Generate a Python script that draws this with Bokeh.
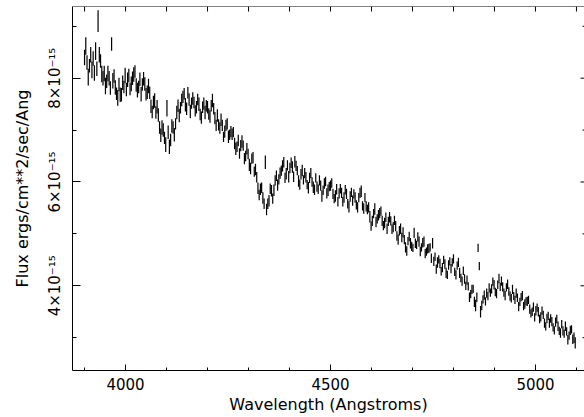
import numpy as np
from bokeh.plotting import figure
from bokeh.models import (ColumnDataSource, LinearAxis, SingleIntervalTicker,
                          Range1d)
from bokeh.embed import file_html
from bokeh.resources import INLINE

# Wavelength grid (Angstroms): first sample and sampling step
wl_start = 3900
wl_step = 3

# Flux in units of 1e-15 ergs/cm**2/sec/Ang, one value per sample
flux = [
    8.40, 8.62, 8.30, 8.02, 8.24, 8.45, 8.16, 8.38, 8.10, 8.52,
    8.18, 9.10, 8.45, 8.33, 8.08, 8.00, 8.09, 7.85, 7.94, 8.09,
    8.00, 7.81, 8.66, 7.95, 8.04, 7.82, 7.70, 7.62, 7.88, 7.68,
    7.68, 7.91, 7.83, 8.05, 7.78, 7.97, 8.05, 7.79, 7.89, 8.00,
    8.07, 8.13, 7.87, 7.77, 7.83, 7.98, 7.69, 7.88, 7.99, 7.89,
    7.69, 7.73, 7.85, 7.72, 7.46, 7.35, 7.53, 7.57, 7.34, 7.45,
    7.29, 7.05, 6.90, 7.05, 7.00, 6.85, 6.72, 7.42, 6.96, 6.68,
    6.81, 7.08, 7.05, 6.91, 7.12, 7.34, 7.47, 7.28, 7.43, 7.58,
    7.64, 7.70, 7.49, 7.41, 7.72, 7.59, 7.36, 7.52, 7.61, 7.53,
    7.37, 7.44, 7.59, 7.50, 7.30, 7.24, 7.44, 7.51, 7.34, 7.47,
    7.44, 7.31, 7.26, 7.47, 7.57, 7.41, 7.23, 7.09, 7.28, 7.10,
    7.04, 7.20, 7.09, 6.87, 6.97, 7.09, 7.12, 6.87, 6.91, 6.97,
    6.92, 6.96, 6.74, 6.64, 6.68, 6.80, 6.55, 6.70, 6.78, 6.70,
    6.45, 6.50, 6.64, 6.54, 6.33, 6.26, 6.45, 6.47, 6.20, 6.24,
    6.09, 5.88, 5.75, 5.86, 5.89, 5.69, 5.58, 6.38, 5.47, 5.58,
    5.64, 5.87, 5.83, 5.68, 5.84, 6.03, 6.12, 5.94, 6.05, 6.17,
    6.22, 6.31, 6.38, 6.08, 6.16, 6.32, 6.10, 6.27, 6.37, 6.29,
    6.10, 6.39, 6.31, 6.22, 6.02, 5.95, 6.15, 6.22, 6.04, 6.17,
    6.09, 5.95, 5.89, 6.08, 6.17, 6.00, 5.90, 5.85, 6.08, 5.91,
    5.86, 6.03, 5.93, 5.73, 5.84, 5.97, 6.01, 5.78, 5.84, 5.91,
    5.93, 5.98, 5.77, 5.68, 5.73, 5.86, 5.62, 5.78, 5.87, 5.79,
    5.62, 5.70, 5.85, 5.77, 5.58, 5.52, 5.72, 5.80, 5.64, 5.77,
    5.70, 5.56, 5.51, 5.70, 5.79, 5.82, 5.54, 5.49, 5.70, 5.53,
    5.47, 5.51, 5.33, 5.15, 5.25, 5.39, 5.48, 5.23, 5.29, 5.36,
    5.40, 5.44, 5.25, 5.16, 5.21, 5.32, 5.10, 5.24, 5.32, 5.25,
    5.09, 5.13, 5.26, 5.15, 4.96, 4.89, 5.06, 5.10, 4.93, 5.03,
    4.89, 4.74, 4.67, 4.86, 4.95, 4.82, 4.76, 4.73, 5.02, 4.82,
    4.79, 4.94, 4.85, 4.66, 4.74, 4.83, 4.85, 4.62, 4.66, 4.71,
    4.72, 4.74, 4.53, 4.82, 4.47, 4.56, 4.32, 4.45, 4.51, 4.43,
    4.28, 4.35, 4.50, 4.42, 4.25, 4.21, 4.40, 4.47, 4.33, 4.45,
    4.52, 4.27, 4.21, 4.39, 4.45, 4.25, 4.15, 4.09, 4.29, 4.13,
    4.00, 4.11, 3.99, 3.78, 3.84, 3.93, 3.94, 3.69, 3.62, 3.78,
    4.73, 4.38, 3.50, 3.62, 3.74, 3.82, 3.70, 3.86, 3.80, 3.96,
    3.87, 3.94, 4.08, 4.02, 3.88, 3.85, 4.02, 4.14, 3.98, 4.09,
    3.98, 3.87, 3.81, 3.97, 4.03, 3.89, 3.80, 3.76, 3.93, 3.80,
    3.73, 3.86, 3.77, 3.60, 3.69, 3.78, 3.81, 3.61, 3.65, 3.70,
    3.70, 3.73, 3.55, 3.47, 3.50, 3.59, 3.39, 3.52, 3.58, 3.50,
    3.36, 3.40, 3.52, 3.44, 3.28, 3.22, 3.37, 3.42, 3.28, 3.37,
    3.31, 3.20, 3.14, 3.30, 3.36, 3.22, 3.13, 3.09, 3.26, 3.13,
    3.08, 3.22, 3.12, 2.96, 3.04, 3.14, 3.16, 2.97, 3.00, 2.90,
]

# One-sigma error of each flux sample (same units)
flux_err = [
    0.15, 0.17, 0.14, 0.16, 0.13, 0.15, 0.16, 0.14, 0.15, 0.17,
    0.14, 0.21, 0.15, 0.13, 0.16, 0.14, 0.15, 0.16, 0.13, 0.15,
    0.14, 0.13, 0.13, 0.15, 0.13, 0.14, 0.12, 0.15, 0.13, 0.14,
    0.13, 0.14, 0.12, 0.15, 0.13, 0.14, 0.13, 0.12, 0.14, 0.13,
    0.14, 0.12, 0.13, 0.14, 0.12, 0.13, 0.14, 0.12, 0.13, 0.13,
    0.12, 0.13, 0.14, 0.12, 0.13, 0.12, 0.13, 0.14, 0.12, 0.13,
    0.13, 0.12, 0.13, 0.14, 0.13, 0.12, 0.14, 0.16, 0.13, 0.14,
    0.12, 0.13, 0.12, 0.13, 0.11, 0.13, 0.12, 0.13, 0.11, 0.12,
    0.12, 0.11, 0.13, 0.12, 0.11, 0.12, 0.13, 0.11, 0.12, 0.11,
    0.11, 0.12, 0.11, 0.13, 0.11, 0.12, 0.11, 0.12, 0.13, 0.11,
    0.12, 0.11, 0.12, 0.11, 0.13, 0.11, 0.12, 0.11, 0.12, 0.11,
    0.11, 0.12, 0.11, 0.10, 0.12, 0.11, 0.11, 0.12, 0.10, 0.11,
    0.11, 0.10, 0.11, 0.12, 0.10, 0.11, 0.10, 0.11, 0.12, 0.10,
    0.11, 0.10, 0.11, 0.10, 0.12, 0.11, 0.10, 0.11, 0.10, 0.11,
    0.10, 0.11, 0.10, 0.11, 0.10, 0.11, 0.10, 0.13, 0.11, 0.10,
    0.11, 0.10, 0.11, 0.10, 0.11, 0.10, 0.10, 0.11, 0.10, 0.11,
    0.10, 0.11, 0.10, 0.10, 0.11, 0.10, 0.11, 0.10, 0.10, 0.11,
    0.10, 0.11, 0.10, 0.09, 0.11, 0.10, 0.10, 0.11, 0.09, 0.10,
    0.10, 0.09, 0.11, 0.10, 0.10, 0.09, 0.11, 0.10, 0.09, 0.10,
    0.09, 0.10, 0.10, 0.11, 0.09, 0.10, 0.09, 0.10, 0.11, 0.09,
    0.10, 0.09, 0.10, 0.09, 0.11, 0.10, 0.09, 0.10, 0.09, 0.10,
    0.09, 0.10, 0.09, 0.10, 0.09, 0.11, 0.10, 0.09, 0.10, 0.09,
    0.10, 0.09, 0.10, 0.09, 0.10, 0.11, 0.09, 0.10, 0.09, 0.10,
    0.09, 0.10, 0.11, 0.09, 0.10, 0.09, 0.11, 0.10, 0.09, 0.10,
    0.10, 0.09, 0.10, 0.09, 0.10, 0.09, 0.10, 0.09, 0.10, 0.09,
    0.09, 0.10, 0.09, 0.10, 0.09, 0.10, 0.09, 0.10, 0.09, 0.10,
    0.09, 0.10, 0.09, 0.08, 0.09, 0.10, 0.09, 0.08, 0.10, 0.09,
    0.08, 0.09, 0.10, 0.09, 0.08, 0.09, 0.10, 0.09, 0.08, 0.09,
    0.09, 0.08, 0.09, 0.10, 0.09, 0.08, 0.09, 0.10, 0.08, 0.09,
    0.08, 0.09, 0.08, 0.09, 0.10, 0.08, 0.09, 0.08, 0.09, 0.08,
    0.09, 0.08, 0.09, 0.08, 0.09, 0.10, 0.08, 0.09, 0.08, 0.09,
    0.08, 0.09, 0.08, 0.09, 0.08, 0.09, 0.08, 0.10, 0.11, 0.09,
    0.08, 0.08, 0.11, 0.09, 0.08, 0.09, 0.08, 0.09, 0.08, 0.09,
    0.08, 0.09, 0.08, 0.09, 0.08, 0.09, 0.08, 0.09, 0.08, 0.09,
    0.09, 0.08, 0.09, 0.08, 0.09, 0.08, 0.09, 0.08, 0.09, 0.08,
    0.08, 0.09, 0.08, 0.09, 0.08, 0.08, 0.09, 0.08, 0.09, 0.08,
    0.09, 0.08, 0.09, 0.08, 0.08, 0.09, 0.08, 0.09, 0.08, 0.09,
    0.08, 0.09, 0.08, 0.08, 0.09, 0.08, 0.09, 0.08, 0.09, 0.08,
    0.09, 0.08, 0.08, 0.09, 0.08, 0.09, 0.08, 0.09, 0.08, 0.09,
    0.08, 0.09, 0.08, 0.09, 0.08, 0.09, 0.08, 0.09, 0.10, 0.11,
]

# Tick marks and labels of the axes
x_major_step = 500
x_minor_per_major = 5
top_tick_values = [3900, 4000, 4100, 4200, 4300, 4400, 4500, 4600,
                   4700, 4800, 4900, 5000, 5100]
y_major_values = [4, 6, 8]
y_minor_values = [3, 5, 7, 9]
y_tick_labels = {4: "4×10⁻¹⁵", 6: "6×10⁻¹⁵", 8: "8×10⁻¹⁵"}

wl = wl_start + wl_step * np.arange(len(flux))
f = np.array(flux)
e = np.array(flux_err)
src = ColumnDataSource(dict(x=wl, lo=f - e, hi=f + e))

FONT = "DejaVu Sans"
W, H = 584, 417
BL, BR, BT, BB = 72, 0, 6, 47
FW, FH = W - BL - BR, H - BT - BB

p = figure(width=W, height=H, output_backend="svg", toolbar_location=None,
           x_range=Range1d(3870.6, 5119.6), y_range=Range1d(2.368, 9.381),
           x_axis_location=None, y_axis_location=None)
p.min_border_left = BL
p.min_border_right = BR
p.min_border_top = BT
p.min_border_bottom = BB
p.outline_line_color = None
p.background_fill_color = "white"
p.border_fill_color = "white"
p.xgrid.visible = False
p.ygrid.visible = False
# pixel ranges used for the tick marks of the top and right frame edges
p.extra_x_ranges = {"px": Range1d(0, FW)}
p.extra_y_ranges = {"py": Range1d(0, FH)}

p.segment(x0="x", y0="lo", x1="x", y1="hi", source=src,
          line_color="black", line_width=1.2)

# bottom axis
xb = LinearAxis(ticker=SingleIntervalTicker(interval=x_major_step,
                                            num_minor_ticks=x_minor_per_major))
xb.major_tick_in = 6
xb.major_tick_out = 0
xb.minor_tick_in = 3
xb.minor_tick_out = 0
xb.major_label_standoff = 7
xb.major_label_text_font = FONT
xb.major_label_text_font_size = "15px"
xb.major_label_text_color = "black"
xb.axis_label = "Wavelength (Angstroms)"
xb.axis_label_standoff = 2
xb.axis_label_text_font = FONT
xb.axis_label_text_font_size = "16px"
xb.axis_label_text_font_style = "normal"
xb.axis_label_text_color = "black"
xb.axis_line_color = "black"
xb.major_tick_line_color = "black"
xb.minor_tick_line_color = "black"
p.add_layout(xb, "below")

# left axis
yl = LinearAxis(ticker=SingleIntervalTicker(interval=2, num_minor_ticks=2))
yl.major_tick_in = 8
yl.major_tick_out = 0
yl.minor_tick_in = 4
yl.minor_tick_out = 0
yl.major_label_orientation = "parallel"
yl.major_label_standoff = 8
yl.major_label_overrides = y_tick_labels
yl.major_label_text_font = FONT
yl.major_label_text_font_size = "15px"
yl.major_label_text_color = "black"
yl.axis_label = "Flux ergs/cm**2/sec/Ang"
yl.axis_label_standoff = 12
yl.axis_label_text_font = FONT
yl.axis_label_text_font_size = "16px"
yl.axis_label_text_font_style = "normal"
yl.axis_label_text_color = "black"
yl.axis_line_color = "black"
yl.major_tick_line_color = "black"
yl.minor_tick_line_color = "black"
p.add_layout(yl, "left")

# top frame edge with its ticks
p.segment(x0=[3870.6], y0=[FH], x1=[5119.6], y1=[FH], y_range_name="py",
          line_color="black", line_width=1)
p.segment(x0=top_tick_values, y0=[FH] * len(top_tick_values),
          x1=top_tick_values, y1=[FH - 5] * len(top_tick_values),
          y_range_name="py", line_color="black", line_width=1)
# right frame ticks (the frame edge itself lies just outside the picture)
p.segment(x0=[FW] * len(y_major_values), y0=y_major_values,
          x1=[FW - 4] * len(y_major_values), y1=y_major_values,
          x_range_name="px", line_color="black", line_width=1)
p.segment(x0=[FW] * len(y_minor_values), y0=y_minor_values,
          x1=[FW - 2] * len(y_minor_values), y1=y_minor_values,
          x_range_name="px", line_color="black", line_width=1)

open("out.html", "w").write(file_html(p, INLINE))
